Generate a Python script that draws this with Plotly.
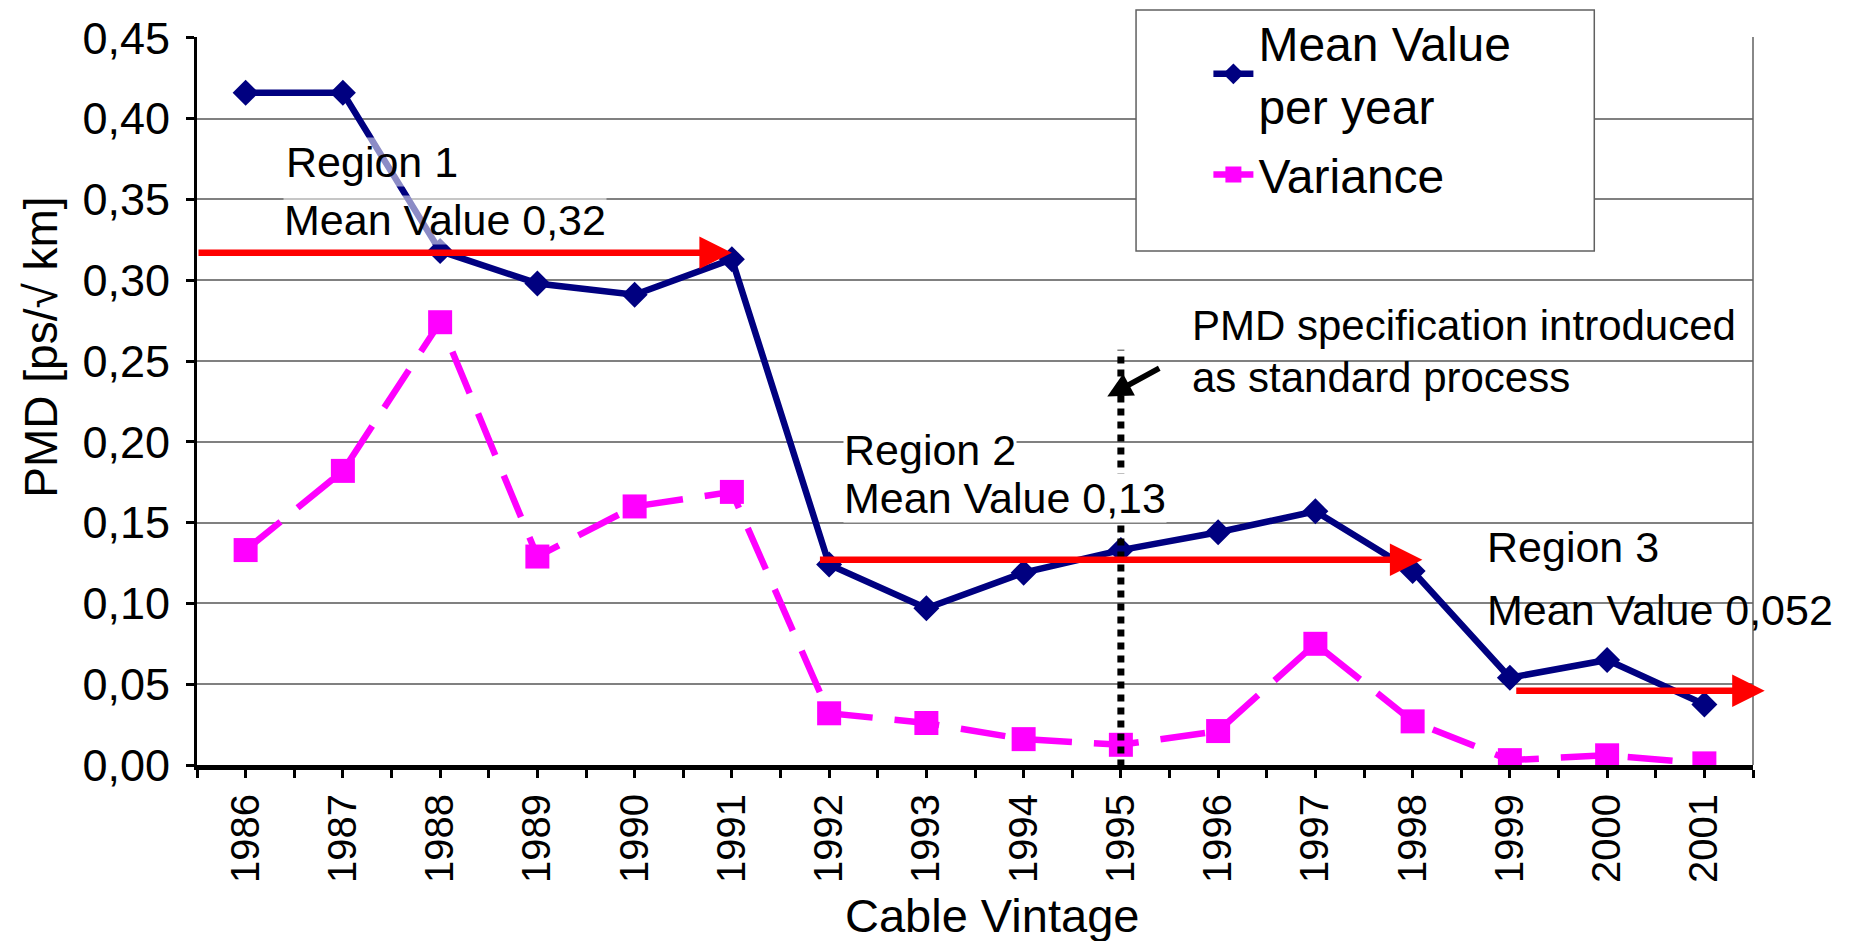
import plotly.graph_objects as go

years = [1986, 1987, 1988, 1989, 1990, 1991, 1992, 1993,
         1994, 1995, 1996, 1997, 1998, 1999, 2000, 2001]
mean_pmd = [0.416, 0.416, 0.318, 0.298, 0.291, 0.313, 0.124, 0.097,
            0.119, 0.133, 0.144, 0.157, 0.120, 0.054, 0.065, 0.0375]
variance = [0.133, 0.182, 0.274, 0.129, 0.160, 0.169, 0.032, 0.026,
            0.016, 0.0125, 0.021, 0.075, 0.027, 0.003, 0.006, 0.001]

# Region mean-value arrows: (start year, end year, level)
region_arrows = [
    (1985.5, 1991.0, 0.317),
    (1991.89, 1998.1, 0.127),
    (1999.05, 2001.62, 0.046),
]
# Region labels: (year, value, text)
region_labels = [
    (1986.4, 0.373, "Region 1"),
    (1986.38, 0.337, "Mean Value 0,32"),
    (1992.14, 0.195, "Region 2"),
    (1992.14, 0.165, "Mean Value 0,13"),
    (1998.75, 0.135, "Region 3"),
    (1998.75, 0.096, "Mean Value 0,052"),
]
spec_year = 1995
spec_span = (-0.009, 0.257)
spec_labels = [
    (1995.71, 0.272, "PMD specification introduced"),
    (1995.71, 0.240, "as standard process"),
]
spec_arrow = ((1995.41, 0.246), (1994.86, 0.228))

FONT = "Liberation Sans, Arial, sans-serif"
NAVY = "#000080"
MAGENTA = "#FF00FF"
RED = "#FF0000"

fig = go.Figure()

fig.add_trace(go.Scatter(
    x=years, y=mean_pmd, name="Mean Value<br>per year", legendgroup="a",
    mode="lines+markers",
    line=dict(color=NAVY, width=6.5),
    marker=dict(symbol="diamond", size=20, color=NAVY),
))
fig.add_trace(go.Scatter(
    x=years, y=variance, name="Variance", legendgroup="b",
    mode="lines+markers",
    line=dict(color=MAGENTA, width=6.5, dash="45px,22px"),
    marker=dict(symbol="square", size=24, color=MAGENTA),
))

annotations = []
for x0, x1, level in region_arrows:
    annotations.append(dict(
        x=x1, y=level, ax=x0, ay=level, xref="x", yref="y", axref="x", ayref="y",
        text="", showarrow=True, arrowhead=2, arrowsize=1.0, arrowwidth=6.5,
        arrowcolor=RED, standoff=0,
    ))

for i, (x, y, txt) in enumerate(region_labels):
    bg = "rgba(255,255,255,0.55)" if i < 2 else "rgba(255,255,255,1)" if i < 4 else "rgba(0,0,0,0)"
    annotations.append(dict(
        x=x, y=y, xref="x", yref="y", text=txt, showarrow=False,
        xanchor="left", yanchor="middle", bgcolor=bg, borderpad=0,
        font=dict(family=FONT, size=43, color="black"),
    ))

for x, y, txt in spec_labels:
    annotations.append(dict(
        x=x, y=y, xref="x", yref="y", text=txt, showarrow=False,
        xanchor="left", yanchor="middle",
        font=dict(family=FONT, size=42, color="black"),
    ))

(tx, ty), (hx, hy) = spec_arrow
annotations.append(dict(
    x=hx, y=hy, ax=tx, ay=ty, xref="x", yref="y", axref="x", ayref="y",
    text="", showarrow=True, arrowhead=2, arrowsize=0.9, arrowwidth=5.5,
    arrowcolor="black", standoff=0,
))

# axis titles
annotations.append(dict(
    x=-0.0999, y=0.574, xref="paper", yref="paper", text="PMD [ps/√ km]",
    textangle=-90, showarrow=False, xanchor="center", yanchor="middle",
    font=dict(family=FONT, size=46, color="black"),
))
annotations.append(dict(
    x=0.511, y=-0.2074, xref="paper", yref="paper", text="Cable Vintage",
    showarrow=False, xanchor="center", yanchor="middle",
    font=dict(family=FONT, size=47, color="black"),
))

shapes = [
    # legend frame
    dict(type="rect", xref="paper", yref="paper", x0=0.6035, x1=0.898, y0=0.706, y1=1.037,
         fillcolor="white", line=dict(color="#606060", width=1.5), layer="above"),
    # right border of plot area
    dict(type="line", xref="paper", yref="paper", x0=1, x1=1, y0=0, y1=1,
         line=dict(color="#606060", width=1.5)),
    # specification year marker
    dict(type="line", xref="x", yref="y", x0=spec_year, x1=spec_year,
         y0=spec_span[0], y1=spec_span[1],
         line=dict(color="black", width=7, dash="7px,6px"), layer="above"),
]

# page body adds an 8px offset, so the figure is 8px smaller on each side
fig.update_layout(
    width=1857, height=933,
    margin=dict(l=189, r=112, t=29, b=176, autoexpand=False),
    paper_bgcolor="white", plot_bgcolor="white",
    separators=", ",
    font=dict(family=FONT, color="black"),
    showlegend=True,
    legend=dict(
        x=0.65, y=1.044, xanchor="left", yanchor="top",
        bgcolor="rgba(0,0,0,0)", borderwidth=0,
        font=dict(family=FONT, size=48, color="black"),
        tracegroupgap=4, itemwidth=40,
    ),
    annotations=annotations,
    shapes=shapes,
)

fig.update_xaxes(
    range=[1985.5, 2001.5], automargin=False,
    tickvals=years, ticktext=[str(y) for y in years],
    tickangle=-90, tickfont=dict(family=FONT, size=40, color="black"),
    ticks="outside", ticklen=8, tickwidth=3, tickcolor="black",
    minor=dict(ticks="outside", dtick=0.5, tick0=1985.5, ticklen=8, tickwidth=3,
               tickcolor="black", showgrid=False),
    showline=True, linecolor="black", linewidth=5,
    showgrid=False, zeroline=False,
)
fig.update_yaxes(
    range=[0, 0.4505], dtick=0.05, tick0=0, tickformat=".2f", automargin=False,
    tickfont=dict(family=FONT, size=45, color="black"),
    ticks="outside", ticklen=8, tickwidth=3, tickcolor="black", ticklabelstandoff=7,
    showline=True, linecolor="black", linewidth=3,
    showgrid=True, gridcolor="#808080", gridwidth=2, zeroline=False,
)

fig.write_html("out.html")
